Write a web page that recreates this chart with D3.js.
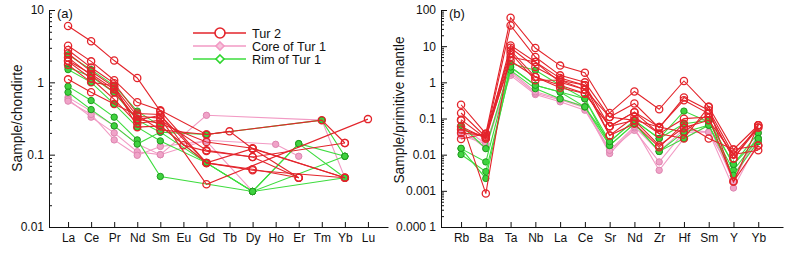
<!DOCTYPE html>
<html><head><meta charset="utf-8">
<script src="https://cdn.jsdelivr.net/npm/d3@7"></script>
<style>
body{margin:0;background:#fff}
svg{display:block}
text{font-family:"Liberation Sans",Arial,sans-serif;fill:#111}
</style>
</head><body>
<svg id="chart" width="795" height="253"></svg>
<script>
// ---------- categories ----------
const reeElements = ["La","Ce","Pr","Nd","Sm","Eu","Gd","Tb","Dy","Ho","Er","Tm","Yb","Lu"];
const pmElements  = ["Rb","Ba","Ta","Nb","La","Ce","Sr","Nd","Zr","Hf","Sm","Y","Yb"];

// ---------- tick labels ----------
const reeTickValues = [0.01, 0.1, 1, 10];
const reeTickLabels = ["0.01", "0.1", "1", "10"];
const pmTickValues  = [0.0001, 0.001, 0.01, 0.1, 1, 10, 100];
const pmTickLabels  = ["0.000 1", "0.001", "0.01", "0.1", "1", "10", "100"];

const groupNames = ["Tur 2", "Core of Tur 1", "Rim of Tur 1"];

// ---------- (a) chondrite-normalized REE : Tur 2 ----------
const reeTur2_1 = [6.0, 3.7, 2.0, 1.15, 0.40, null, 0.077, null, 0.061, null, null, null, 0.048, null];
const reeTur2_2 = [3.2, 1.95, 1.07, 0.53, 0.41, null, 0.19, 0.21, 0.121, null, 0.048, null, null, null];
const reeTur2_3 = [2.8, 1.6, 0.97, 0.37, 0.36, 0.135, 0.112, null, 0.093, null, null, null, 0.145, null];
const reeTur2_4 = [2.5, 1.42, 0.86, 0.34, 0.32, null, 0.039, null, null, null, null, null, null, 0.31];
const reeTur2_5 = [2.2, 1.25, 0.73, 0.31, 0.27, null, 0.15, null, 0.123, null, null, null, 0.048, null];
const reeTur2_6 = [1.95, 1.13, 0.58, 0.27, 0.30, null, 0.115, null, 0.093, null, 0.048, null, null, null];
const reeTur2_7 = [1.75, 1.0, 0.9, 0.24, 0.25, null, 0.077, null, 0.063, null, 0.048, null, null, null];
const reeTur2_8 = [1.1, 0.73, 0.5, 0.35, 0.22, null, 0.19, null, null, null, null, 0.3, 0.145, null];
const reeTur2_9 = [2.0, 1.3, 0.8, 0.30, 0.35, null, 0.077, null, 0.121, null, null, null, 0.048, null];
// ---------- (a) Rim of Tur 1 ----------
const reeRim_1 = [2.4, 1.5, 0.9, 0.40, 0.25, null, 0.077, null, 0.031, null, 0.142, null, 0.095, null];
const reeRim_2 = [1.6, 1.2, 0.72, 0.30, 0.205, null, 0.19, null, null, null, null, 0.3, 0.095, null];
const reeRim_3 = [1.5, 1.0, 0.5, 0.24, 0.155, null, 0.077, null, 0.031, null, null, null, 0.048, null];
const reeRim_4 = [0.88, 0.56, 0.33, 0.16, 0.05, null, null, null, 0.031, null, 0.142, null, 0.048, null];
const reeRim_5 = [0.73, 0.42, 0.25, 0.14, 0.205, null, 0.077, null, 0.031, null, null, null, 0.095, null];
// ---------- (a) Core of Tur 1 ----------
const reeCore_1 = [0.62, 0.40, 0.25, 0.14, 0.10, null, 0.35, null, null, null, null, 0.3, 0.048, null];
const reeCore_2 = [0.58, 0.33, 0.20, 0.11, 0.10, null, 0.158, null, null, 0.139, 0.095, null, null, null];
const reeCore_3 = [0.55, 0.36, 0.16, 0.098, 0.13, null, 0.154, null, 0.031, null, null, null, null, null];

// ---------- (b) primitive-mantle-normalized : Tur 2 ----------
const pmTur2_1 = [0.24, 0.038, 61, 8.9, 2.9, 1.85, 0.142, 0.56, 0.18, 1.09, 0.21, 0.0139, 0.065];
const pmTur2_2 = [0.142, 0.031, 37.5, 5.0, 1.56, 1.0, 0.11, 0.26, 0.055, 0.38, 0.17, 0.0101, 0.056];
const pmTur2_3 = [0.093, 0.028, 10.5, 3.65, 1.31, 0.83, 0.061, 0.15, 0.058, 0.32, 0.137, 0.0078, 0.065];
const pmTur2_4 = [0.089, 0.00084, 9.0, 2.65, 1.14, 0.63, 0.034, 0.11, 0.038, 0.099, 0.11, 0.0018, 0.018];
const pmTur2_5 = [0.027, 0.038, 7.6, 1.4, 0.71, 0.49, 0.061, 0.089, 0.018, 0.056, 0.089, 0.0101, 0.0132];
const pmTur2_6 = [0.05, 0.031, 6.4, 1.14, 1.14, 0.83, 0.034, 0.072, 0.016, 0.072, 0.028, 0.0139, 0.018];
const pmTur2_7 = [0.06, 0.028, 5.0, 3.65, 1.0, 0.63, 0.11, 0.089, 0.058, 0.042, 0.137, 0.0078, 0.056];
const pmTur2_8 = [0.04, 0.034, 3.9, 1.4, 0.83, 0.49, 0.061, 0.15, 0.038, 0.028, 0.21, 0.0018, 0.065];
// ---------- (b) Rim of Tur 1 ----------
const pmRim_1 = [0.065, 0.0147, 3.3, 2.15, 0.83, 0.35, 0.023, 0.089, 0.028, 0.16, 0.08, 0.0054, 0.04];
const pmRim_2 = [0.0147, 0.0063, 2.65, 0.83, 0.54, 0.35, 0.018, 0.072, 0.0123, 0.042, 0.065, 0.0037, 0.028];
const pmRim_3 = [0.0101, 0.0034, 2.15, 0.67, 0.35, 0.21, 0.018, 0.072, 0.0123, 0.028, 0.065, 0.0027, 0.023];
const pmRim_4 = [0.015, 0.0022, 2.65, 0.83, 0.54, 0.21, 0.023, 0.089, 0.028, 0.072, 0.089, 0.0054, 0.028];
// ---------- (b) Core of Tur 1 ----------
const pmCore_1 = [0.034, 0.020, 1.56, 0.46, 0.29, 0.17, 0.0132, 0.047, 0.0063, 0.042, 0.042, 0.0012, 0.023];
const pmCore_2 = [0.06, 0.020, 1.8, 0.50, 0.33, 0.20, 0.0108, 0.055, 0.0037, 0.028, 0.065, 0.0018, 0.04];
const pmCore_3 = [0.05, 0.015, 2.0, 0.55, 0.35, 0.22, 0.0132, 0.06, 0.0123, 0.05, 0.042, 0.0027, 0.028];

// ---------- build tables ----------
const reeSeries = [
  ...[reeCore_1, reeCore_2, reeCore_3].map(v => ({g: 1, v})),
  ...[reeRim_1, reeRim_2, reeRim_3, reeRim_4, reeRim_5].map(v => ({g: 2, v})),
  ...[reeTur2_1, reeTur2_2, reeTur2_3, reeTur2_4, reeTur2_5, reeTur2_6, reeTur2_7, reeTur2_8, reeTur2_9].map(v => ({g: 0, v}))
];
const pmSeries = [
  ...[pmCore_1, pmCore_2, pmCore_3].map(v => ({g: 1, v})),
  ...[pmRim_1, pmRim_2, pmRim_3, pmRim_4].map(v => ({g: 2, v})),
  ...[pmTur2_1, pmTur2_2, pmTur2_3, pmTur2_4, pmTur2_5, pmTur2_6, pmTur2_7, pmTur2_8].map(v => ({g: 0, v}))
];

const lineColor = ["#e3242b", "#f29ac4", "#3ddc3d"];
const markFill  = ["none", "#f0a3c8", "#3fd23f"];
const markStroke= ["#e3242b", "#dd85b0", "#1f9a1f"];

const svg = d3.select("#chart");

function minorTicks(lo, hi) {
  const out = [];
  for (let e = Math.round(Math.log10(lo)); e < Math.round(Math.log10(hi)); e++)
    for (let m = 2; m <= 9; m++) out.push(m * Math.pow(10, e));
  return out;
}

function panel(opt) {
  const g = svg.append("g");
  const x = d3.scaleLinear().domain(opt.xDomain).range(opt.xRange);
  const y = d3.scaleLog().domain(opt.yDomain).range([227, 10]);
  const x0 = opt.xRange[0];

  // minor y ticks
  g.append("g").attr("transform", `translate(${x0},0)`)
    .call(d3.axisLeft(y).tickValues(minorTicks(opt.yDomain[0], opt.yDomain[1])).tickSize(-3).tickSizeOuter(0).tickFormat(""))
    .call(a => a.select(".domain").remove());
  // major y ticks
  g.append("g").attr("transform", `translate(${x0},0)`)
    .call(d3.axisLeft(y).tickValues(opt.tickValues).tickSize(-6).tickSizeOuter(0).tickPadding(5)
      .tickFormat((d, i) => opt.tickLabels[i]))
    .call(a => a.selectAll("text").style("font-size", "12px").style("font-family", "Liberation Sans, Arial, sans-serif").attr("fill", "#111"));
  // x axis
  g.append("g").attr("transform", "translate(0,227)")
    .call(d3.axisBottom(x).tickValues(d3.range(opt.cats.length)).tickSize(-5).tickSizeOuter(0).tickPadding(6)
      .tickFormat(i => opt.cats[i]))
    .call(a => a.selectAll("text").style("font-size", "12px").style("font-family", "Liberation Sans, Arial, sans-serif").attr("fill", "#111"));
  g.selectAll(".domain, .tick line").attr("stroke", "#111").attr("stroke-width", 1);

  // title
  g.append("text").attr("transform", `translate(${opt.titleX},${opt.titleY}) rotate(-90)`)
    .attr("text-anchor", "middle").style("font-size", "13.8px").text(opt.title);
  g.append("text").attr("x", x0 + 8).attr("y", 18).style("font-size", "13px").text(opt.tag);

  const line = d3.line().defined(d => d.v != null).x(d => x(d.i)).y(d => y(d.v));
  opt.series.forEach(s => {
    const pts = s.v.map((v, i) => ({i, v})).filter(d => d.v != null);
    g.append("path").datum(pts).attr("d", line).attr("fill", "none")
      .attr("stroke", lineColor[s.g]).attr("stroke-width", 1.1);
    g.selectAll(null).data(pts).enter().append("circle")
      .attr("cx", d => x(d.i)).attr("cy", d => y(d.v)).attr("r", s.g === 0 ? 3.6 : 3.2)
      .attr("fill", markFill[s.g]).attr("stroke", markStroke[s.g]).attr("stroke-width", s.g === 0 ? 1.3 : 1);
  });
}

panel({cats: reeElements, xDomain: [-0.826, 13.87], xRange: [49, 388], yDomain: [0.01, 10],
  tickValues: reeTickValues, tickLabels: reeTickLabels, series: reeSeries,
  title: "Sample/chondirte", titleX: 22, titleY: 118, tag: "(a)"});
panel({cats: pmElements, xDomain: [-0.81, 13], xRange: [441, 783], yDomain: [0.0001, 100],
  tickValues: pmTickValues, tickLabels: pmTickLabels, series: pmSeries,
  title: "Sample/primitive mantle", titleX: 404, titleY: 110, tag: "(b)"});

// legend
const leg = svg.append("g");
const legOrder = [0, 1, 2];
const legY = [33, 46, 59];
legOrder.forEach((gi, k) => {
  const yy = legY[k];
  leg.append("line").attr("x1", 193).attr("x2", 246).attr("y1", yy).attr("y2", yy)
    .attr("stroke", lineColor[gi]).attr("stroke-width", 1.4);
  if (gi === 0) {
    leg.append("circle").attr("cx", 220).attr("cy", yy).attr("r", 5).attr("fill", "#fff")
      .attr("stroke", lineColor[0]).attr("stroke-width", 1.6);
  } else {
    const sym = d3.symbol().type(d3.symbolDiamond2).size(42);
    leg.append("path").attr("d", sym()).attr("transform", `translate(220,${yy})`)
      .attr("fill", gi === 1 ? "#f6c6dc" : "#fff").attr("stroke", gi === 1 ? "#f29ac4" : "#2fd62f").attr("stroke-width", 1.6);
  }
  leg.append("text").attr("x", 252).attr("y", yy + 4.5).style("font-size", "12.7px").text(groupNames[gi]);
});
</script>
</body></html>
